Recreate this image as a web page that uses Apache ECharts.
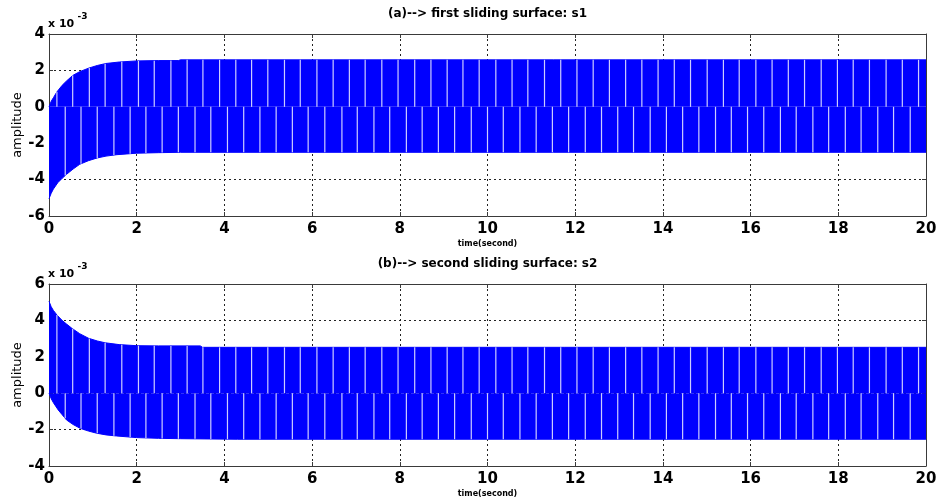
<!DOCTYPE html>
<html><head><meta charset="utf-8">
<script src="https://cdn.jsdelivr.net/npm/echarts@6/dist/echarts.min.js"></script>
<style>html,body{margin:0;padding:0;background:#fff}#c{width:937px;height:502px}</style>
</head><body><div id="c"></div>
<script>
// ---- data (values in units of 1e-3) ----
const titles = ['(a)--> first sliding surface: s1', '(b)--> second sliding surface: s2'];
const xLabel = 'time(second)';
const yLabel = 'amplitude';
const yRanges = [[-6, 4], [-4, 6]];

const s1UpperT = [0,0.05,0.1,0.18,0.3,0.4,0.54,0.7,0.9,1.1,1.3,1.6,2.0,2.5,2.95,3.0,20];
const s1UpperV = [0,0.3,0.5,0.82,1.18,1.42,1.72,1.93,2.12,2.27,2.38,2.46,2.52,2.54,2.54,2.58,2.58];
const s1LowerT = [0,0.05,0.1,0.2,0.3,0.4,0.55,0.7,0.9,1.1,1.3,1.55,2.0,2.5,3.0,20];
const s1LowerV = [-5.05,-4.75,-4.52,-4.17,-3.93,-3.71,-3.42,-3.16,-2.96,-2.81,-2.71,-2.63,-2.55,-2.52,-2.5,-2.5];

const s2UpperT = [0,0.05,0.1,0.18,0.3,0.4,0.52,0.7,0.9,1.1,1.28,1.6,2.0,2.5,3.45,3.5,20];
const s2UpperV = [5.05,4.75,4.55,4.3,4.0,3.8,3.57,3.27,3.02,2.87,2.77,2.67,2.61,2.6,2.6,2.52,2.52];
const s2LowerT = [0,0.05,0.1,0.21,0.3,0.4,0.55,0.71,0.9,1.09,1.3,1.54,2.0,2.5,3.0,4.3,20];
const s2LowerV = [0,-0.3,-0.52,-0.92,-1.18,-1.47,-1.72,-1.93,-2.08,-2.2,-2.29,-2.35,-2.44,-2.48,-2.5,-2.53,-2.53];

// times of the pale vertical streaks visible inside the chattering band
const upperStreakT = [0.18,0.54,0.92,1.28,1.66,2.04,2.40,2.78,3.15,3.51,3.89,4.26,4.62,4.99,5.37,5.73,6.11,6.48,6.85,7.21,7.59,7.96,8.34,8.71,9.08,9.44,9.81,10.19,10.56,10.92,11.30,11.67,12.04,12.41,12.78,13.15,13.52,13.89,14.26,14.63,15.01,15.38,15.74,16.12,16.49,16.86,17.23,17.61,17.98,18.34,18.71,19.09,19.46,19.83];
const lowerStreakT = [0.37,0.73,1.10,1.48,1.85,2.21,2.58,2.95,3.33,3.69,4.07,4.44,4.81,5.18,5.55,5.91,6.29,6.68,7.03,7.41,7.77,8.15,8.51,8.88,9.25,9.63,10.00,10.36,10.74,11.11,11.48,11.85,12.23,12.60,12.97,13.33,13.71,14.08,14.45,14.82,15.20,15.56,15.93,16.30,16.68,17.04,17.42,17.78,18.16,18.52,18.90,19.26,19.64];

// ---- helpers ----
function interp(ts, vs, t){
  for (let i = 1; i < ts.length; i++){
    if (t <= ts[i]){ const f = (t - ts[i-1])/(ts[i]-ts[i-1]); return vs[i-1] + f*(vs[i]-vs[i-1]); }
  }
  return vs[vs.length-1];
}
const zip = (a,b) => a.map((t,i)=>[t,b[i]]);

const FONT = '"DejaVu Sans", "Liberation Sans", Arial, sans-serif';
const BLUE = '#0000ff';
const FRAME = '#3a3a3a';

const grids = [
  {left:49, top:34, width:877, height:182, outerBoundsMode:'none', containLabel:false},
  {left:49, top:284, width:877, height:182, outerBoundsMode:'none', containLabel:false}
];

const xAxes = [], yAxes = [];
[0,1].forEach(g => {
  xAxes.push({
    type:'value', gridIndex:g, min:0, max:20, interval:2, position:'bottom',
    axisLine:{show:true, onZero:false, lineStyle:{color:FRAME, width:1}},
    axisTick:{show:true, inside:true, length:4, lineStyle:{color:FRAME}},
    axisLabel:{show:true, margin:6, color:'#000', fontFamily:FONT, fontWeight:'bold', fontSize:15},
    splitLine:{show:true, lineStyle:{color:'#222', type:[2,3], width:1}}
  });
  xAxes.push({
    type:'value', gridIndex:g, min:0, max:20, interval:2, position:'top',
    axisLine:{show:true, onZero:false, lineStyle:{color:FRAME, width:1}},
    axisTick:{show:true, inside:true, length:4, lineStyle:{color:FRAME}},
    axisLabel:{show:false}, splitLine:{show:false}
  });
  yAxes.push({
    type:'value', gridIndex:g, min:yRanges[g][0], max:yRanges[g][1], interval:2, position:'left',
    axisLine:{show:true, onZero:false, lineStyle:{color:FRAME, width:1}},
    axisTick:{show:true, inside:true, length:4, lineStyle:{color:FRAME}},
    axisLabel:{show:true, margin:4, color:'#000', fontFamily:FONT, fontWeight:'bold', fontSize:15},
    splitLine:{show:true, lineStyle:{color:'#222', type:[2,3], width:1}}
  });
  yAxes.push({
    type:'value', gridIndex:g, min:yRanges[g][0], max:yRanges[g][1], interval:2, position:'right',
    axisLine:{show:true, onZero:false, lineStyle:{color:FRAME, width:1}},
    axisTick:{show:true, inside:true, length:4, lineStyle:{color:FRAME}},
    axisLabel:{show:false}, splitLine:{show:false}
  });
});

function bandSeries(g, data){
  return {
    type:'line', xAxisIndex:2*g, yAxisIndex:2*g, data:data, showSymbol:false, symbol:'none',
    smooth:false, lineStyle:{color:BLUE, width:1}, areaStyle:{color:BLUE, opacity:1, origin:0},
    silent:true, animation:false, z:2
  };
}
function streakSeries(g, data){
  return {
    type:'custom', xAxisIndex:2*g, yAxisIndex:2*g, data:data, silent:true, animation:false, z:3,
    renderItem:(params, api) => {
      const p0 = api.coord([api.value(0), 0]);
      const p1 = api.coord([api.value(0), api.value(1)]);
      return {type:'rect', shape:{x:p0[0]-0.6, y:Math.min(p0[1],p1[1]), width:1.2, height:Math.abs(p1[1]-p0[1])},
        style:{fill:'rgba(255,255,255,0.8)'}};
    }
  };
}

const series = [
  bandSeries(0, zip(s1UpperT, s1UpperV)),
  bandSeries(0, zip(s1LowerT, s1LowerV)),
  streakSeries(0, upperStreakT.map(t => [t, interp(s1UpperT, s1UpperV, t)])),
  streakSeries(0, lowerStreakT.map(t => [t, interp(s1LowerT, s1LowerV, t)])),
  bandSeries(1, zip(s2UpperT, s2UpperV)),
  bandSeries(1, zip(s2LowerT, s2LowerV)),
  streakSeries(1, upperStreakT.map(t => [t, interp(s2UpperT, s2UpperV, t)])),
  streakSeries(1, lowerStreakT.map(t => [t, interp(s2LowerT, s2LowerV, t)]))
];

const graphic = [];
[0,1].forEach(g => {
  const top = grids[g].top, h = grids[g].height, cx = grids[g].left + grids[g].width/2;
  graphic.push({type:'text', x:cx, y:top-20, style:{text:titles[g], align:'center', verticalAlign:'middle',
    font:'bold 12px ' + FONT, fill:'#000'}});
  graphic.push({type:'text', x:cx, y:top+h+27.5, style:{text:xLabel, align:'center', verticalAlign:'middle',
    font:'bold 8px ' + FONT, fill:'#000'}});
  graphic.push({type:'text', x:17.5, y:top+h/2, rotation:Math.PI/2, style:{text:yLabel, align:'center', verticalAlign:'middle',
    font:'13px ' + FONT, fill:'#000'}});
  graphic.push({type:'text', x:48, y:top-10, style:{text:'x 10', align:'left', verticalAlign:'middle',
    font:'bold 11px ' + FONT, fill:'#000'}});
  graphic.push({type:'text', x:77.5, y:top-17, style:{text:'-3', align:'left', verticalAlign:'middle',
    font:'bold 9px ' + FONT, fill:'#000'}});
});

const chart = echarts.init(document.getElementById('c'), null, {renderer:'canvas'});
chart.setOption({
  backgroundColor:'#fff', animation:false,
  grid:grids, xAxis:xAxes, yAxis:yAxes, series:series, graphic:graphic
});
</script>
</body></html>
